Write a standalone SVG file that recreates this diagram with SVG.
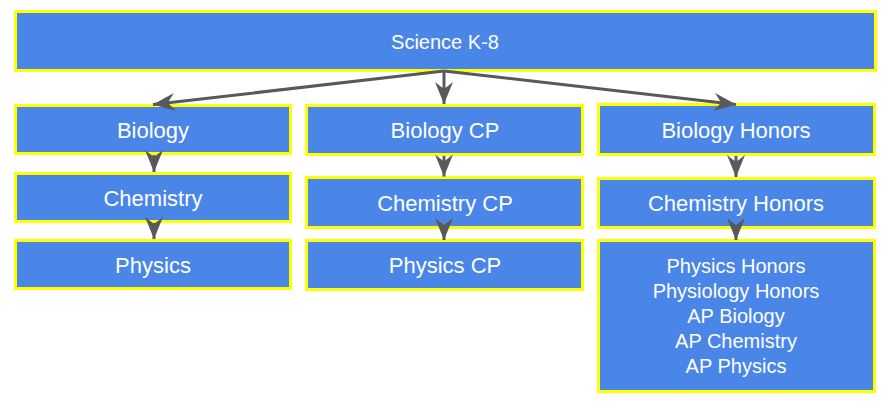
<svg xmlns="http://www.w3.org/2000/svg" width="891" height="411" viewBox="0 0 891 411">
<style>
.box{fill:#4a86e8;stroke:#ffff00;stroke-width:3}
.t{fill:#ffffff;font-family:"Liberation Sans",Arial,sans-serif;font-size:22px;text-anchor:middle}
.s{font-size:20px}
.c{fill:none;stroke:#595959;stroke-width:3}
</style>
<defs>
<marker id="ah" viewBox="0 0 22 18" refX="22" refY="9" markerWidth="22" markerHeight="18" markerUnits="userSpaceOnUse" orient="auto">
<path d="M0,0 L22,9 L0,18 L7,9 Z" fill="#595959"/>
</marker>
</defs>
<rect width="891" height="411" fill="#ffffff"/>
<g id="n-science"><rect class="box" x="15.5" y="11.5" width="860" height="59"/><text class="t s" x="445" y="48.5">Science K-8</text></g>
<g id="n-biology"><rect class="box" x="15.5" y="105.5" width="275" height="48"/><text class="t" x="153" y="137.5">Biology</text></g>
<g id="n-chemistry"><rect class="box" x="15.5" y="173.5" width="275" height="48"/><text class="t" x="153" y="206">Chemistry</text></g>
<g id="n-physics"><rect class="box" x="15.5" y="240.5" width="275" height="48"/><text class="t" x="153" y="272.5">Physics</text></g>
<g id="n-biology-cp"><rect class="box" x="306.5" y="105.5" width="276" height="49"/><text class="t" x="445" y="137.5">Biology CP</text></g>
<g id="n-chemistry-cp"><rect class="box" x="306.5" y="177.5" width="276" height="50"/><text class="t" x="445" y="210.5">Chemistry CP</text></g>
<g id="n-physics-cp"><rect class="box" x="306.5" y="240.5" width="276" height="49"/><text class="t" x="445" y="272.5">Physics CP</text></g>
<g id="n-biology-h"><rect class="box" x="598.5" y="104.5" width="276" height="50"/><text class="t" x="736" y="137.5">Biology Honors</text></g>
<g id="n-chemistry-h"><rect class="box" x="598.5" y="178.5" width="276" height="49"/><text class="t" x="736" y="210.5">Chemistry Honors</text></g>
<g id="n-advanced"><rect class="box" x="598.5" y="240.5" width="276" height="151"/>
<text class="t s" x="736" y="272.7">Physics Honors</text>
<text class="t s" x="736" y="297.7">Physiology Honors</text>
<text class="t s" x="736" y="322.7">AP Biology</text>
<text class="t s" x="736" y="347.7">AP Chemistry</text>
<text class="t s" x="736" y="372.7">AP Physics</text>
</g>
<g id="connectors">
<path class="c" d="M444,71 L153,104.5" marker-end="url(#ah)"/>
<path class="c" d="M444,71 L444,104" marker-end="url(#ah)"/>
<path class="c" d="M444,71 L736,104.5" marker-end="url(#ah)"/>
<path class="c" d="M154,155 L154,172" marker-end="url(#ah)"/>
<path class="c" d="M154,223 L154,239" marker-end="url(#ah)"/>
<path class="c" d="M444,156 L444,176.5" marker-end="url(#ah)"/>
<path class="c" d="M444,229 L444,240" marker-end="url(#ah)"/>
<path class="c" d="M736,156 L736,177" marker-end="url(#ah)"/>
<path class="c" d="M736,229 L736,240" marker-end="url(#ah)"/>
</g>
</svg>
